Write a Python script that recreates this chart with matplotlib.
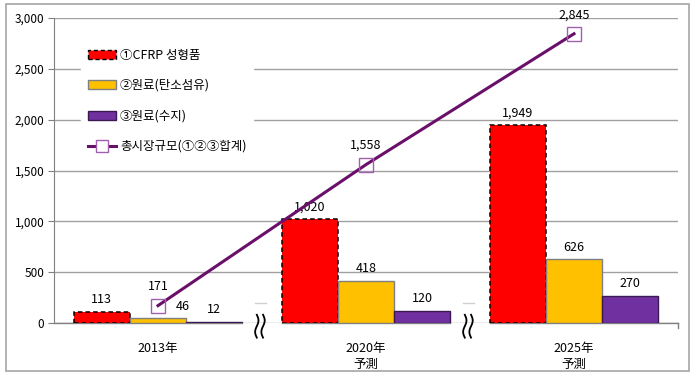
import numpy as np
import matplotlib.pyplot as plt
from matplotlib.patches import Rectangle, Patch
from matplotlib.lines import Line2D
from matplotlib.ticker import FuncFormatter

plt.rcParams['font.family'] = ['Noto Sans CJK KR', 'DejaVu Sans']

years = ['2013年', '2020年\n予測', '2025年\n予測']
cfrp = [113, 1020, 1949]
fiber = [46, 418, 626]
resin = [12, 120, 270]
total = [171, 1558, 2845]
labels = ['①CFRP 성형품', '②원료(탄소섬유)', '③원료(수지)', '총시장규모(①②③합계)']

fig = plt.figure(figsize=(7, 3.77), dpi=100)
ax = fig.add_axes([54/700, 1-323/377, 624/700, 305/377])

# outer frame
fig.patches.append(Rectangle((6/700, 6/377), 683/700, 367/377, transform=fig.transFigure,
                             fill=False, edgecolor='#a6a6a6', linewidth=1.2))

x = np.arange(len(years))
w = 0.27
b1 = ax.bar(x - w, cfrp, w, color='#ff0000', edgecolor='black', linestyle=(0, (3, 2)),
            linewidth=1.1, zorder=3)
b2 = ax.bar(x, fiber, w, color='#ffc000', edgecolor='#7f7f7f', linewidth=1, zorder=3)
b3 = ax.bar(x + w, resin, w, color='#7030a0', edgecolor='#3a1a50', linewidth=1, zorder=3)
ax.plot(x, total, color='#6a0f6a', linewidth=2.2, zorder=4)
ax.plot(x, total, linestyle='none', marker='s', markersize=10, markerfacecolor='none',
        markeredgecolor='#a060b0', markeredgewidth=1, zorder=5)

for bars, vals in ((b1, cfrp), (b2, fiber), (b3, resin)):
    for r, v in zip(bars, vals):
        dx = 18 if v == fiber[0] else 0  # first gold label sits right of the marker
        ax.annotate(f'{v:,}', (r.get_x() + r.get_width()/2, v), xytext=(dx, 4),
                    textcoords='offset points', ha='center', va='bottom', fontsize=9)
for xi, v in zip(x, total):
    ax.annotate(f'{v:,}', (xi, v), xytext=(0, 9), textcoords='offset points',
                ha='center', va='bottom', fontsize=9)

ax.set_xlim(-0.5, 2.5)
ax.set_ylim(0, 3000)
ax.set_yticks(np.arange(0, 3001, 500))
ax.yaxis.set_major_formatter(FuncFormatter(lambda v, p: f'{int(v):,}'))
ax.grid(axis='y', color='#a0a0a0', linewidth=1, zorder=0)
ax.set_axisbelow(True)
ax.set_xticks(x)
ax.set_xticklabels(years, fontsize=9, linespacing=1.3)
ax.tick_params(axis='x', length=0, pad=14)
ax.tick_params(axis='y', labelsize=8.5, length=4, color='#808080', pad=3)
for s in ('top', 'right', 'bottom'):
    ax.spines[s].set_visible(False)
ax.spines['left'].set_color('#808080')

# broken x-axis with wavy break marks
gap = 0.5 - 1.5*w
segs = [(-0.5, 0.5 - gap), (0.5 + gap, 1.5 - gap), (1.5 + gap, 2.5)]
for a, b in segs:
    ax.plot([a, b], [0, 0], color='#808080', linewidth=1, clip_on=False, zorder=2)
ax.plot([2.5, 2.5], [0, -0.017], color='#808080', linewidth=1, clip_on=False,
        transform=ax.get_xaxis_transform())
t = np.linspace(0, 1, 60)
for xb in (0.5, 1.5):
    for dx in (-0.015, 0.015):
        xs = xb + dx + 0.008*np.sin(t*2*np.pi)
        ys = 0.027 - 0.075*t
        ax.plot(xs - 0.01, ys, color='black', linewidth=1.3, clip_on=False,
                transform=ax.get_xaxis_transform(), zorder=6)
    ax.plot([xb - 0.035, xb + 0.02], [0.067, 0.067], color='#d0d0d0', linewidth=1,
            clip_on=False, transform=ax.get_xaxis_transform())

handles = [Patch(facecolor='#ff0000', edgecolor='black', linestyle=(0, (3, 2))),
           Patch(facecolor='#ffc000', edgecolor='#7f7f7f'),
           Patch(facecolor='#7030a0', edgecolor='#3a1a50'),
           Line2D([], [], color='#6a0f6a', linewidth=2.2, marker='s', markersize=8,
                  markerfacecolor='white', markeredgecolor='#a060b0')]
leg = ax.legend(handles, labels, loc='upper left', bbox_to_anchor=(75/700, 1-36/377),
                bbox_transform=fig.transFigure, frameon=True, fontsize=9,
                handlelength=2.3, handleheight=0.7, labelspacing=1.4,
                handletextpad=0.3, borderpad=0.5, fancybox=False)
leg.get_frame().set_edgecolor('white')
leg.get_frame().set_alpha(1)
leg.set_zorder(2.5)

fig.savefig('out.png', dpi=100)
